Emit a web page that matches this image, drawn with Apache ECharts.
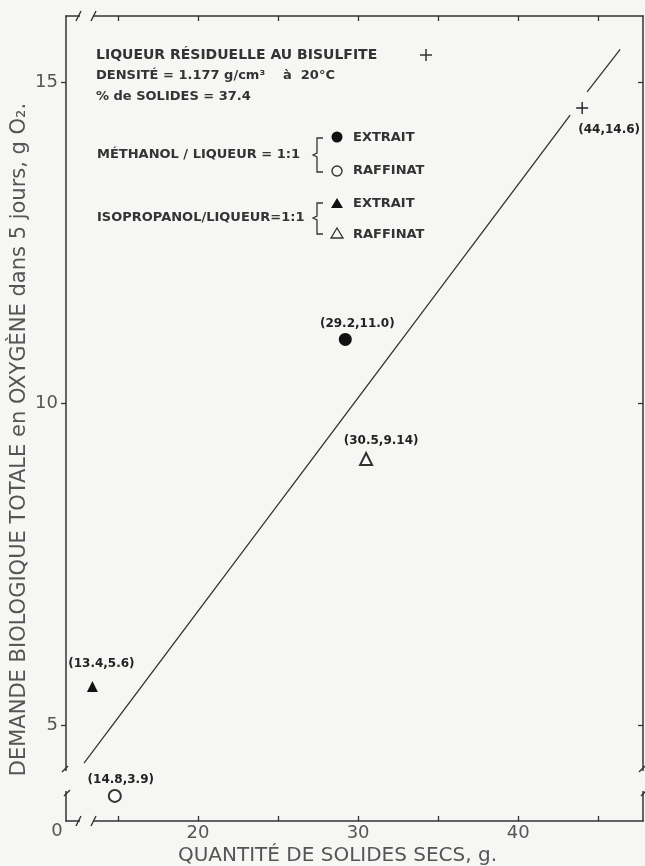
<!DOCTYPE html>
<html><head><meta charset="utf-8">
<script src="https://cdn.jsdelivr.net/npm/echarts@6/dist/echarts.min.js"></script>
<style>html,body{margin:0;padding:0;background:#f6f6f4}#c{width:645px;height:866px}</style>
</head><body><div id="c"></div>
<script>
// ---- data ----
const xTicks = [15, 20, 25, 30, 35, 40, 45];
const xLabels = [20, 30, 40];
const yTicks = [5, 10, 15];
const yLabels = [5, 10, 15];
const xName = 'QUANTITÉ DE SOLIDES SECS, g.';
const yName = 'DEMANDE BIOLOGIQUE TOTALE en OXYGÈNE dans 5 jours, g O₂.';

const bisulfite = [[44, 14.6]];
const methanolExtrait = [[29.2, 11.0]];
const methanolRaffinat = [[14.8, 3.9]];
const isoExtrait = [[13.4, 5.6]];
const isoRaffinat = [[30.5, 9.14]];
const bisulfiteLabel = ['(44,14.6)'];
const methanolExtraitLabel = ['(29.2,11.0)'];
const methanolRaffinatLabel = ['(14.8,3.9)'];
const isoExtraitLabel = ['(13.4,5.6)'];
const isoRaffinatLabel = ['(30.5,9.14)'];
const fitLineLower = [[12.875, 4.41], [43.25, 14.49]];
const fitLineUpper = [[44.31, 14.85], [46.375, 15.51]];

const headerLines = ['LIQUEUR RÉSIDUELLE AU BISULFITE', 'DENSITÉ = 1.177 g/cm³', 'à  20°C', '% de SOLIDES = 37.4'];
const groupNames = ['MÉTHANOL / LIQUEUR = 1:1', 'ISOPROPANOL/LIQUEUR=1:1'];
const phaseNames = ['EXTRAIT', 'RAFFINAT'];

// ---- style ----
const bg = '#f6f6f4';
const ink = '#333333';
const FF = 'DejaVu Sans';
const G = {left: 66, top: 16, right: 643, bottom: 821};

const chart = echarts.init(document.getElementById('c'), null, {renderer: 'canvas'});

function seg(x1, y1, x2, y2, w) {
  return {type: 'line', z: 100, shape: {x1, y1, x2, y2}, style: {stroke: ink, lineWidth: w || 1.4}};
}
function cover(x, y, w, h) {
  return {type: 'rect', z: 99, shape: {x, y, width: w, height: h}, style: {fill: bg}};
}
function txt(text, x, y, size, weight, align) {
  return {type: 'text', z: 100, x, y, style: {text, fontSize: size, fontFamily: FF, fontWeight: weight || 'bold', fill: ink, align: align || 'left', verticalAlign: 'middle'}};
}

const graphics = [];
// x-axis breaks (top & bottom)
[G.top, G.bottom].forEach(y => {
  graphics.push(cover(80, y - 4, 13, 8));
  graphics.push(seg(76, y + 5, 81, y - 5));
  graphics.push(seg(91, y + 5, 96, y - 5));
});
// y-axis breaks (left & right)
[G.left, G.right].forEach(x => {
  graphics.push(cover(x - 4, 771, 8, 20));
  graphics.push(seg(x - 4, 772, x + 2, 766));
  graphics.push(seg(x - 2, 796, x + 4, 790));
});
// origin label
graphics.push({type: 'text', z: 100, x: 57, y: 831, style: {text: '0', fontSize: 18, fontFamily: FF, fill: '#555', align: 'center', verticalAlign: 'middle'}});
// header block
graphics.push(txt(headerLines[0], 96, 55, 14));
graphics.push(seg(420, 55, 432, 55, 1.5), seg(426, 49, 426, 61, 1.5));
graphics.push(txt(headerLines[1], 96, 76, 13));
graphics.push(txt(headerLines[2], 283, 76, 13));
graphics.push(txt(headerLines[3], 96, 97, 13));
// group 1
graphics.push(txt(groupNames[0], 97, 155, 13));
graphics.push({type: 'polyline', z: 100, shape: {points: [[323, 138], [317, 138], [317, 153], [313, 155], [317, 157], [317, 172], [323, 172]]}, style: {stroke: ink, lineWidth: 1.3, fill: null}});
graphics.push({type: 'circle', z: 100, shape: {cx: 337, cy: 137, r: 5.5}, style: {fill: '#111'}});
graphics.push({type: 'circle', z: 100, shape: {cx: 337, cy: 171, r: 5}, style: {fill: null, stroke: ink, lineWidth: 1.4}});
graphics.push(txt(phaseNames[0], 353, 138, 13));
graphics.push(txt(phaseNames[1], 353, 171, 13));
// group 2
graphics.push(txt(groupNames[1], 97, 218, 13));
graphics.push({type: 'polyline', z: 100, shape: {points: [[323, 203], [317, 203], [317, 216], [313, 218], [317, 220], [317, 234], [323, 234]]}, style: {stroke: ink, lineWidth: 1.3, fill: null}});
graphics.push({type: 'polygon', z: 100, shape: {points: [[337, 198], [343, 208], [331, 208]]}, style: {fill: '#111'}});
graphics.push({type: 'polygon', z: 100, shape: {points: [[337, 228], [343, 238], [331, 238]]}, style: {fill: null, stroke: ink, lineWidth: 1.3}});
graphics.push(txt(phaseNames[0], 353, 204, 13));
graphics.push(txt(phaseNames[1], 353, 235, 13));

const plusPath = 'path://M5.3,0H6.7V5.3H12V6.7H6.7V12H5.3V6.7H0V5.3H5.3Z';
const labelStyle = {show: true, fontSize: 12, fontFamily: FF, fontWeight: 'bold', color: '#222'};

function pts(name, data, labels, symbol, size, itemStyle, labelOpt) {
  return {
    name, type: 'scatter', data, symbol, symbolSize: size,
    itemStyle: Object.assign({opacity: 1}, itemStyle), z: 5,
    label: Object.assign({}, labelStyle, labelOpt, {formatter: p => labels[p.dataIndex]})
  };
}

const option = {
  backgroundColor: bg,
  animation: false,
  grid: {left: G.left, top: G.top, right: 645 - G.right, bottom: 866 - G.bottom, containLabel: false, outerBoundsMode: 'none'},
  xAxis: [{
    type: 'value', position: 'bottom', min: 11.75, max: 47.8,
    axisLine: {lineStyle: {color: ink, width: 1.5}},
    axisTick: {inside: true, length: 5, customValues: xTicks, lineStyle: {color: ink, width: 1.3}},
    axisLabel: {customValues: xLabels, fontSize: 18, fontFamily: FF, color: '#555', margin: 3},
    splitLine: {show: false},
    name: xName, nameLocation: 'middle', nameGap: 25, nameMoveOverlap: false,
    nameTextStyle: {fontSize: 20, fontFamily: FF, color: '#555', padding: [0, 34, 0, 0]}
  }, {
    type: 'value', position: 'top', min: 11.75, max: 47.8,
    axisLine: {lineStyle: {color: ink, width: 1.5}},
    axisTick: {inside: true, length: 5, customValues: xTicks, lineStyle: {color: ink, width: 1.3}},
    axisLabel: {show: false}, splitLine: {show: false}
  }],
  yAxis: [{
    type: 'value', position: 'left', min: 3.51, max: 16.03,
    axisLine: {show: true, lineStyle: {color: ink, width: 1.5}},
    axisTick: {show: true, inside: false, length: 5, customValues: yTicks, lineStyle: {color: ink, width: 1.3}},
    axisLabel: {customValues: yLabels, fontSize: 18, fontFamily: FF, color: '#555', margin: 8},
    splitLine: {show: false},
    name: yName, nameLocation: 'middle', nameRotate: 90, nameGap: 36, nameMoveOverlap: false,
    nameTextStyle: {fontSize: 21, fontFamily: FF, color: '#555', padding: [0, 42, 0, 0]}
  }, {
    type: 'value', position: 'right', min: 3.51, max: 16.03,
    axisLine: {show: true, lineStyle: {color: ink, width: 1.5}},
    axisTick: {show: true, inside: true, length: 5, customValues: yTicks, lineStyle: {color: ink, width: 1.3}},
    axisLabel: {show: false}, splitLine: {show: false}
  }],
  series: [
    {type: 'line', data: fitLineLower, symbol: 'none', lineStyle: {color: ink, width: 1.3}, z: 3},
    {type: 'line', data: fitLineUpper, symbol: 'none', lineStyle: {color: ink, width: 1.3}, z: 3},
    pts('bisulfite', bisulfite, bisulfiteLabel, plusPath, 12, {color: '#222'}, {position: 'bottom', offset: [27, 5]}),
    pts('methanolExtrait', methanolExtrait, methanolExtraitLabel, 'circle', 13, {color: '#111'}, {position: 'top', offset: [12, 2]}),
    pts('methanolRaffinat', methanolRaffinat, methanolRaffinatLabel, 'emptyCircle', 12, {color: ink, borderWidth: 1.5}, {position: 'top', offset: [6, 2]}),
    pts('isoExtrait', isoExtrait, isoExtraitLabel, 'triangle', 11, {color: '#111'}, {position: 'top', offset: [9, -6]}),
    pts('isoRaffinat', isoRaffinat, isoRaffinatLabel, 'emptyTriangle', 12, {color: ink, borderWidth: 1.3}, {position: 'top', offset: [15, 0]})
  ],
  graphic: graphics
};
chart.setOption(option);
</script>
</body></html>
